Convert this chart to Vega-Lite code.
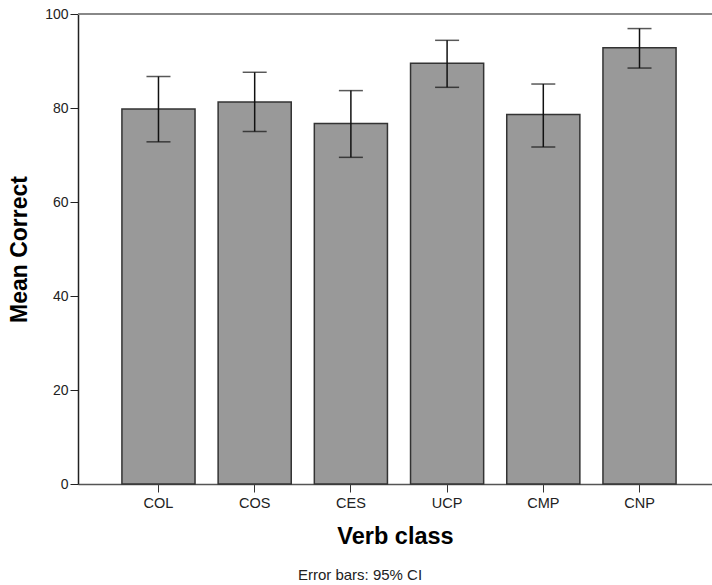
{
  "$schema": "https://vega.github.io/schema/vega-lite/v6.json",
  "width": 634,
  "height": 470,
  "autosize": {"type": "none"},
  "padding": {"left": 78, "top": 14, "right": 0, "bottom": 101},
  "background": "white",
  "config": {
    "view": {"stroke": null},
    "font": "Liberation Sans"
  },
  "title": {
    "text": "Error bars: 95% CI",
    "orient": "bottom",
    "anchor": "middle",
    "dx": -35,
    "offset": 20,
    "fontSize": 15,
    "fontWeight": "normal",
    "color": "#222",
    "font": "Liberation Sans"
  },
  "data": {
    "values": [
      {"verb": "COL", "mean": 79.8, "lo": 72.8, "hi": 86.7},
      {"verb": "COS", "mean": 81.3, "lo": 75.0, "hi": 87.6},
      {"verb": "CES", "mean": 76.7, "lo": 69.5, "hi": 83.7},
      {"verb": "UCP", "mean": 89.5, "lo": 84.4, "hi": 94.4},
      {"verb": "CMP", "mean": 78.6, "lo": 71.7, "hi": 85.1},
      {"verb": "CNP", "mean": 92.8, "lo": 88.5, "hi": 96.9}
    ]
  },
  "encoding": {
    "x": {
      "field": "verb",
      "type": "nominal",
      "sort": null,
      "scale": {"paddingInner": 0.24, "paddingOuter": 0.415, "align": 0.55},
      "axis": {
        "title": "Verb class",
        "titleFontSize": 23.5,
        "titleFontWeight": "bold",
        "titleColor": "black",
        "titlePadding": 15,
        "labelAngle": 0,
        "labelFontSize": 14.5,
        "labelColor": "#222",
        "labelPadding": 4,
        "tickSize": 8,
        "tickColor": "#333",
        "domainColor": "#555",
        "domainWidth": 1.5
      }
    }
  },
  "layer": [
    {
      "mark": {"type": "bar", "fill": "#999999", "stroke": "#333333", "strokeWidth": 1.5},
      "encoding": {
        "y": {
          "field": "mean",
          "type": "quantitative",
          "scale": {"domain": [0, 100]},
          "axis": {
            "title": "Mean Correct",
            "titleFontSize": 23,
            "titleFontWeight": "bold",
            "titleColor": "black",
            "titlePadding": 13,
            "values": [0, 20, 40, 60, 80, 100],
            "grid": false,
            "labelFontSize": 14,
            "labelColor": "#222",
            "labelPadding": 2,
            "tickSize": 8,
            "tickColor": "#222",
            "domainColor": "#222",
            "domainWidth": 1.5
          }
        }
      }
    },
    {
      "mark": {"type": "rule", "color": "#111", "strokeWidth": 1.5},
      "encoding": {
        "y": {"field": "lo", "type": "quantitative"},
        "y2": {"field": "hi"}
      }
    },
    {
      "mark": {"type": "tick", "orient": "horizontal", "size": 24, "thickness": 1.5, "color": "#111"},
      "encoding": {"y": {"field": "lo", "type": "quantitative"}}
    },
    {
      "mark": {"type": "tick", "orient": "horizontal", "size": 24, "thickness": 1.5, "color": "#111"},
      "encoding": {"y": {"field": "hi", "type": "quantitative"}}
    },
    {
      "data": {"values": [{"top": 100}]},
      "mark": {"type": "rule", "color": "#888", "strokeWidth": 2},
      "encoding": {"y": {"field": "top", "type": "quantitative"}, "x": {"value": 0}, "x2": {"value": 634}}
    }
  ]
}
